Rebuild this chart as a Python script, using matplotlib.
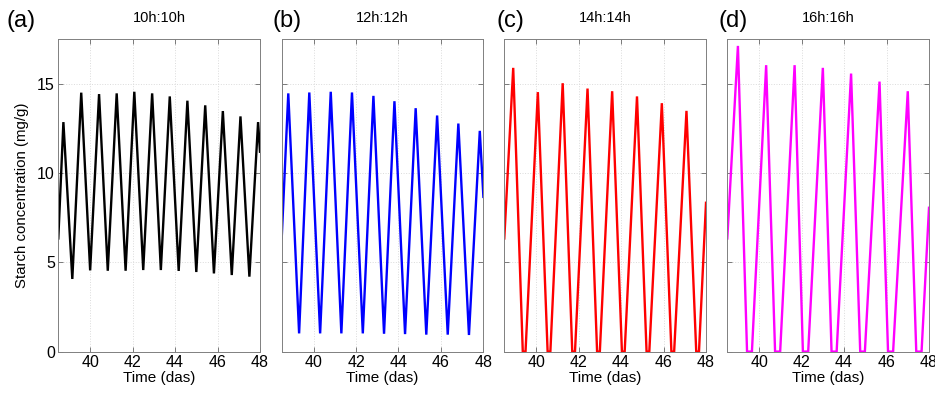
import matplotlib
matplotlib.use('Agg')
import matplotlib.pyplot as plt

plt.rcParams['font.family'] = ['Liberation Sans', 'DejaVu Sans']

# starting value at the left edge of every panel, and right-edge values
t_start, v_start = 38.5, 6.34

# (a) 10h:10h -- sharp zigzag between peaks and troughs
a_peak_t = [38.74, 39.58, 40.42, 41.25, 42.08, 42.92, 43.75, 44.58, 45.42, 46.25, 47.08, 47.91]
a_peak_v = [12.86, 14.51, 14.43, 14.47, 14.56, 14.47, 14.30, 14.06, 13.80, 13.48, 13.18, 12.86]
a_trough_t = [39.16, 40.0, 40.83, 41.67, 42.5, 43.33, 44.17, 45.0, 45.83, 46.67, 47.5]
a_trough_v = [4.07, 4.55, 4.53, 4.53, 4.57, 4.57, 4.52, 4.46, 4.38, 4.29, 4.20]
a_end = 11.2

# (b) 12h:12h
b_peak_t = [38.81, 39.80, 40.81, 41.81, 42.82, 43.81, 44.81, 45.82, 46.82, 47.83]
b_peak_v = [14.47, 14.52, 14.56, 14.52, 14.33, 14.03, 13.64, 13.23, 12.78, 12.37]
b_trough_t = [39.32, 40.31, 41.31, 42.32, 43.32, 44.31, 45.31, 46.32, 47.32]
b_trough_v = [1.02, 1.02, 1.02, 1.02, 1.0, 0.98, 0.95, 0.95, 0.93]
b_end = 8.67

# (c) 14h:14h -- starch runs out before dawn, stays at zero
c_peak_t = [38.92, 40.08, 41.25, 42.42, 43.58, 44.75, 45.92, 47.08]
c_peak_v = [15.9, 14.54, 15.04, 14.74, 14.59, 14.3, 13.92, 13.49]
c_zero_on = [39.37, 40.54, 41.70, 42.87, 44.04, 45.20, 46.37, 47.54]
c_zero_off = [39.50, 40.67, 41.83, 43.0, 44.17, 45.33, 46.50, 47.67]
c_end = 8.34

# (d) 16h:16h
d_peak_t = [39.0, 40.33, 41.67, 43.0, 44.33, 45.67, 47.0]
d_peak_v = [17.13, 16.05, 16.05, 15.9, 15.58, 15.13, 14.59]
d_zero_on = [39.43, 40.75, 42.06, 43.41, 44.76, 46.07, 47.40]
d_zero_off = [39.66, 40.99, 42.31, 43.65, 44.98, 46.31, 47.65]
d_end = 8.06

titles = ['10h:10h', '12h:12h', '14h:14h', '16h:16h']
letters = ['(a)', '(b)', '(c)', '(d)']
colors = ['black', 'blue', 'red', 'magenta']


def zigzag(peak_t, peak_v, trough_t, trough_v, end_v):
    t, v = [t_start], [v_start]
    for i in range(len(peak_t)):
        t.append(peak_t[i]); v.append(peak_v[i])
        if i < len(trough_t):
            t.append(trough_t[i]); v.append(trough_v[i])
    t.append(48.0); v.append(end_v)
    return t, v


def with_zero(peak_t, peak_v, zero_on, zero_off, end_v):
    t, v = [t_start], [v_start]
    for i in range(len(peak_t)):
        t.append(peak_t[i]); v.append(peak_v[i])
        t += [zero_on[i], zero_off[i]]; v += [0.0, 0.0]
    t.append(48.0); v.append(end_v)
    return t, v


series = [
    zigzag(a_peak_t, a_peak_v, a_trough_t, a_trough_v, a_end),
    zigzag(b_peak_t, b_peak_v, b_trough_t, b_trough_v, b_end),
    with_zero(c_peak_t, c_peak_v, c_zero_on, c_zero_off, c_end),
    with_zero(d_peak_t, d_peak_v, d_zero_on, d_zero_off, d_end),
]

fig = plt.figure(figsize=(9.35, 3.98), dpi=100)
W, H = 935.0, 398.0
lefts = [58.3, 281.7, 504.3, 727.3]
letter_x = [7, 273, 496, 719]
ax_w, ax_top, ax_bot = 201.7, 39.3, 351.6

for k in range(4):
    ax = fig.add_axes([lefts[k] / W, 1 - ax_bot / H, ax_w / W, (ax_bot - ax_top) / H])
    t, v = series[k]
    ax.plot(t, v, color=colors[k], lw=1.7, solid_joinstyle='miter')
    ax.set_xlim(38.5, 48)
    ax.set_ylim(0, 17.5)
    ax.set_xticks([40, 42, 44, 46, 48])
    ax.set_yticks([0, 5, 10, 15])
    ax.grid(True, color='0.86', ls=':', lw=0.7)
    ax.tick_params(direction='in', top=True, right=True, length=3.5, width=0.6,
                   color='0.4', labelsize=11.5, pad=2.5)
    for s in ax.spines.values():
        s.set_color('0.5')
        s.set_linewidth(0.7)
    if k > 0:
        ax.set_yticklabels([])
    ax.set_xlabel('Time (das)', fontsize=11, labelpad=0.5)
    cx = (lefts[k] + ax_w / 2) / W
    fig.text(cx, 1 - 18 / H, titles[k], ha='center', va='center', fontsize=10.5)
    fig.text(letter_x[k] / W, 1 - 21 / H, letters[k], ha='left', va='center', fontsize=17)

fig.text(22 / W, 1 - 195.5 / H, 'Starch concentration (mg/g)', rotation=90,
         ha='center', va='center', fontsize=10.8)

fig.savefig('out.png', dpi=100)
